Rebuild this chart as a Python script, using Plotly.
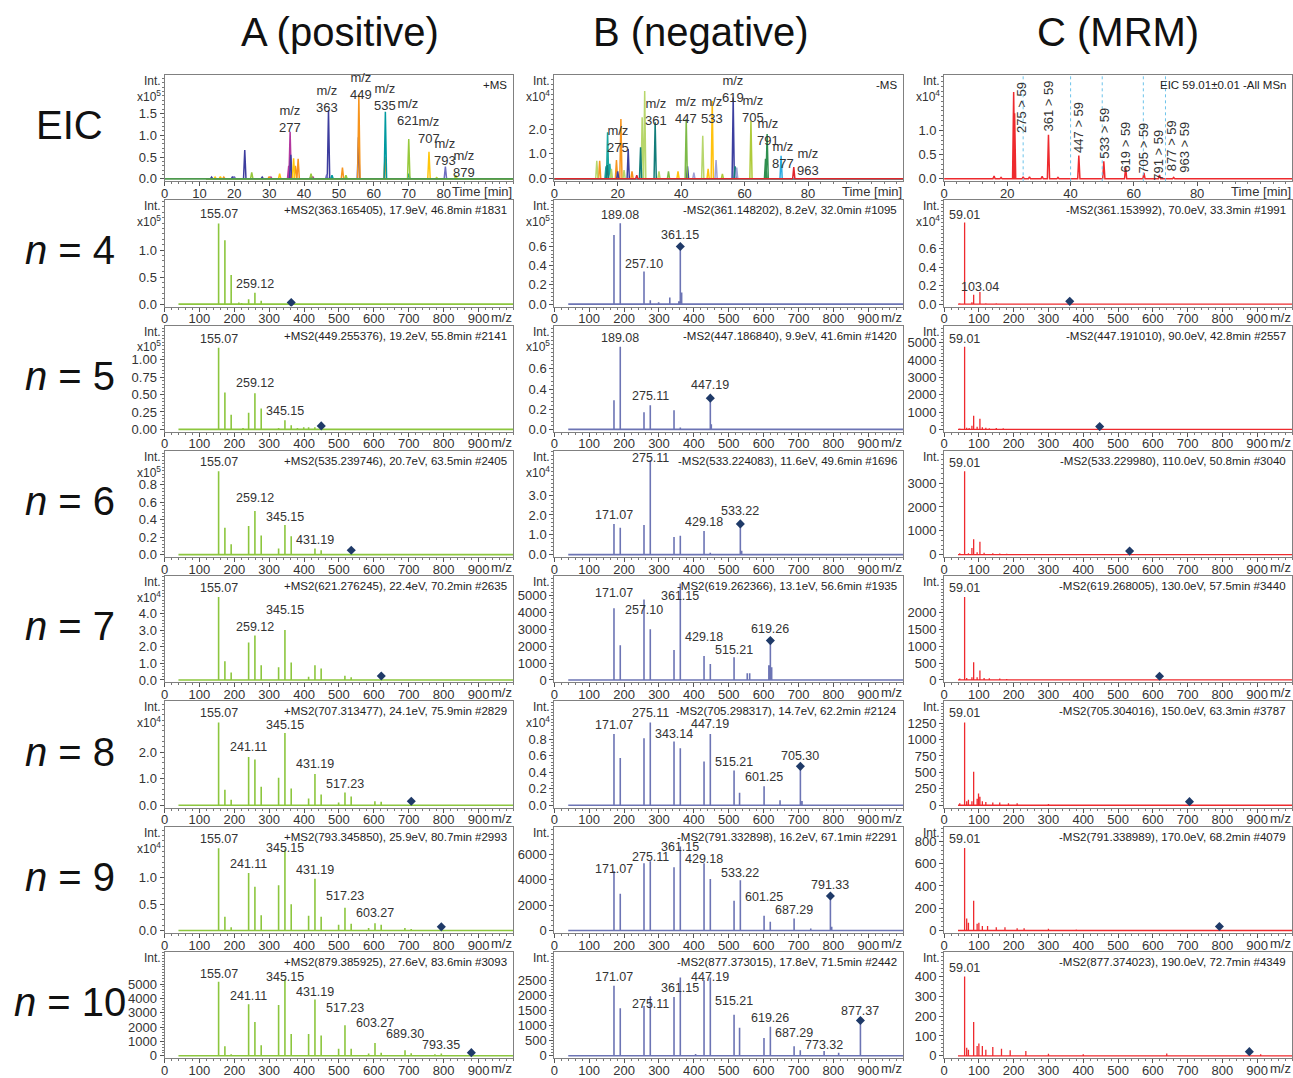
import plotly.graph_objects as go

W, H = 1293, 1078
FONT = "Liberation Sans, Arial, Helvetica, sans-serif"
TXT = "#333333"

# ======================= DATA =======================
col_titles = ["A (positive)", "B (negative)", "C (MRM)"]
row_titles = ["EIC", "<i>n</i> = 4", "<i>n</i> = 5", "<i>n</i> = 6", "<i>n</i> = 7",
              "<i>n</i> = 8", "<i>n</i> = 9", "<i>n</i> = 10"]

eic_headers = ["+MS", "-MS", "EIC 59.01±0.01 -All MSn"]

# --- EIC A (positive), intensity x10^5
eicA_series = ["277", "363", "449", "535", "621", "707", "793", "879"]
eicA_pk_series = ["277", "277", "277", "277",
                  "363", "363", "363", "363", "363", "363", "363", "363",
                  "449", "449", "449", "449", "449", "449", "449",
                  "535", "535", "535",
                  "621", "621", "621", "621",
                  "707", "707", "707", "707", "707",
                  "793", "793", "793",
                  "879", "879"]
eicA_pk_time = [36.0, 35.6, 30.5, 42.5,
                23.0, 36.2, 47.0, 55.6, 13.5, 19.5, 28.0, 42.0,
                37.5, 38.3, 51.0, 55.7, 63.2, 30.0, 17.0,
                63.3, 48.0, 70.0,
                25.0, 42.0, 70.0, 52.0,
                33.0, 37.0, 75.8, 14.5, 16.0,
                80.5, 46.5, 20.0,
                83.5, 78.0]
eicA_pk_int = [1.08, 0.30, 0.04, 0.05,
               0.66, 0.55, 1.57, 0.95, 0.04, 0.05, 0.04, 0.06,
               0.30, 0.46, 0.26, 1.93, 0.50, 0.05, 0.04,
               1.54, 0.08, 0.12,
               0.15, 0.12, 0.91, 0.08,
               0.12, 0.47, 0.62, 0.04, 0.05,
               0.28, 0.10, 0.05,
               0.08, 0.03]
eicA_lab = ["277", "363", "449", "535", "621", "707", "793", "879"]

# --- EIC B (negative), intensity x10^4
eicB_series = ["s275", "orange", "lgreen", "indigo", "dteal", "green", "ygreen",
               "yellow", "lavender", "dgreen", "lblue", "red"]
eicB_pk_series = ["s275", "s275", "s275",
                  "orange", "orange", "orange", "orange",
                  "lgreen", "lgreen", "lgreen", "lgreen", "lgreen", "lgreen", "lgreen",
                  "indigo", "indigo", "indigo", "indigo",
                  "dteal", "dteal", "dteal", "dteal",
                  "green", "green",
                  "ygreen", "ygreen",
                  "yellow", "yellow", "yellow",
                  "lavender", "lavender", "lavender",
                  "dgreen", "dgreen",
                  "lblue",
                  "red", "red"]
eicB_pk_time = [16.8, 16.3, 17.5,
                21.0, 19.6, 14.3, 24.5,
                13.4, 27.7, 28.5, 46.8, 18.0, 22.0, 33.0,
                23.3, 56.4, 42.0, 20.0,
                31.8, 27.2, 16.7, 57.0,
                41.6, 36.0,
                62.0, 53.0,
                49.8, 48.5, 39.0,
                51.0, 57.5, 44.0,
                67.1, 66.6,
                71.5,
                75.5, 26.0]
eicB_pk_int = [1.87, 0.50, 0.60,
               2.40, 0.75, 0.72, 0.30,
               0.72, 2.47, 3.53, 1.73, 0.40, 0.35, 0.30,
               1.20, 3.27, 0.50, 0.30,
               2.27, 1.27, 0.55, 0.50,
               2.40, 0.30,
               2.33, 0.20,
               3.13, 0.40, 0.30,
               0.75, 0.45, 0.25,
               1.80, 0.80,
               0.93,
               0.47, 0.15]
eicB_lab = ["275", "361", "447", "533", "619", "705", "791", "877", "963"]

# --- EIC C (MRM), intensity x10^4
eicC_time = [15.8, 18.0, 22.0, 22.3, 25.0, 27.0, 31.0, 33.0, 36.0, 42.6, 50.5,
             57.4, 63.2, 68.1, 72.6]
eicC_int = [0.06, 0.03, 1.79, 1.35, 0.04, 0.04, 0.05, 0.91, 0.03, 0.48, 0.36,
            0.23, 0.12, 0.08, 0.03]
mrm_windows = [25, 40, 50, 63, 70]
mrm_labels = ["275 > 59", "361 > 59", "447 > 59", "533 > 59", "619 > 59",
              "705 > 59", "791 > 59", "877 > 59", "963 > 59"]

# --- MS2 spectra, column A (positive)
A_headers = ["+MS2(363.165405), 17.9eV, 46.8min #1831",
             "+MS2(449.255376), 19.2eV, 55.8min #2141",
             "+MS2(535.239746), 20.7eV, 63.5min #2405",
             "+MS2(621.276245), 22.4eV, 70.2min #2635",
             "+MS2(707.313477), 24.1eV, 75.9min #2829",
             "+MS2(793.345850), 25.9eV, 80.7min #2993",
             "+MS2(879.385925), 27.6eV, 83.6min #3093"]
A_prec_mz = [363.17, 449.26, 535.24, 621.28, 707.31, 793.35, 879.39]
A_prec_int = [0.03, 0.05, 0.05, 0.24, 0.15, 0.07, 220]

A4_mz = [155.07, 173.08, 191.09, 213, 221, 241.11, 259.12, 277.13, 345.15, 363.17]
A4_int = [1.49, 1.18, 0.54, 0.03, 0.02, 0.09, 0.21, 0.06, 0.01, 0.03]
A4_lab = ["155.07", "259.12"]
A4_laby = [1.66, 0.37]

A5_mz = [140, 155.07, 173.08, 191.09, 213, 225, 241.11, 259.12, 277.13, 327, 345.15,
         363.16, 381, 399, 413, 431, 449.26]
A5_int = [0.01, 1.17, 0.53, 0.21, 0.01, 0.02, 0.24, 0.52, 0.30, 0.02, 0.13,
          0.06, 0.02, 0.03, 0.03, 0.03, 0.05]
A5_lab = ["155.07", "259.12", "345.15"]
A5_laby = [1.30, 0.66, 0.26]

A6_mz = [155.07, 173.08, 191.09, 241.11, 259.12, 277.13, 327, 345.15, 363.16, 413,
         431.19, 449, 535.24]
A6_int = [0.955, 0.31, 0.12, 0.33, 0.50, 0.22, 0.07, 0.34, 0.21, 0.01,
          0.07, 0.05, 0.05]
A6_lab = ["155.07", "259.12", "345.15", "431.19"]
A6_laby = [1.06, 0.65, 0.43, 0.17]

A7_mz = [155.07, 173.08, 191.09, 241.11, 259.12, 277.13, 327, 345.15, 363.16, 413,
         431.19, 449, 517, 535, 621.28]
A7_int = [5.0, 1.13, 0.45, 2.25, 2.68, 0.89, 0.77, 3.0, 1.05, 0.2,
          0.89, 0.69, 0.25, 0.17, 0.24]
A7_lab = ["155.07", "259.12", "345.15"]
A7_laby = [5.56, 3.16, 4.19]

A8_mz = [155.07, 173.08, 191.09, 241.11, 259.12, 277.13, 327, 345.15, 363.16, 413,
         431.19, 449, 499, 517.23, 535, 603, 621, 707.31]
A8_int = [3.12, 0.58, 0.21, 1.82, 1.72, 0.70, 1.04, 2.72, 0.63, 0.25,
          1.18, 0.40, 0.10, 0.48, 0.33, 0.15, 0.13, 0.15]
A8_lab = ["155.07", "241.11", "345.15", "431.19", "517.23"]
A8_laby = [3.46, 2.19, 3.04, 1.57, 0.81]

A9_mz = [155.07, 173.08, 191.09, 241.11, 259.12, 277.13, 327, 345.15, 363.16, 413,
         431.19, 449, 499, 517.23, 535, 585, 603.27, 621, 689, 707, 793.35]
A9_int = [1.56, 0.26, 0.06, 1.09, 0.83, 0.29, 0.86, 1.54, 0.50, 0.28,
          0.98, 0.26, 0.11, 0.43, 0.13, 0.05, 0.14, 0.11, 0.05, 0.03, 0.07]
A9_lab = ["155.07", "241.11", "345.15", "431.19", "517.23", "603.27"]
A9_laby = [1.74, 1.26, 1.56, 1.14, 0.66, 0.34]

A10_mz = [155.07, 173.08, 191.09, 241.11, 259.12, 277.13, 327, 345.15, 363.16, 413,
          431.19, 449, 499, 517.23, 535, 585, 603.27, 621, 689.30, 707, 775,
          793.35, 879.39]
A10_int = [5160, 670, 110, 3590, 2350, 740, 3540, 5380, 1520, 1520,
           3920, 1410, 490, 2130, 490, 160, 900, 220, 380, 180, 100,
           160, 220]
A10_lab = ["155.07", "241.11", "345.15", "431.19", "517.23", "603.27", "689.30", "793.35"]
A10_laby = [5720, 4190, 5490, 4480, 3300, 2310, 1500, 780]

# --- MS2 spectra, column B (negative)
B_headers = ["-MS2(361.148202), 8.2eV, 32.0min #1095",
             "-MS2(447.186840), 9.9eV, 41.6min #1420",
             "-MS2(533.224083), 11.6eV, 49.6min #1696",
             "-MS2(619.262366), 13.1eV, 56.6min #1935",
             "-MS2(705.298317), 14.7eV, 62.2min #2124",
             "-MS2(791.332898), 16.2eV, 67.1min #2291",
             "-MS2(877.373015), 17.8eV, 71.5min #2442"]
B_prec_mz = [361.15, 447.19, 533.22, 619.26, 705.30, 791.33, 877.37]
B_prec_int = [0.60, 0.31, 1.55, 2330, 0.47, 2720, 1170]

B4_mz = [171.07, 189.08, 257.10, 275.11, 299, 331, 357, 361.15, 365]
B4_int = [0.72, 0.84, 0.34, 0.04, 0.02, 0.07, 0.03, 0.60, 0.12]
B4_lab = ["189.08", "257.10", "361.15"]
B4_laby = [0.93, 0.42, 0.72]

B5_mz = [171.07, 189.08, 257.10, 275.11, 343.14, 361.15, 387, 447.19, 450]
B5_int = [0.29, 0.82, 0.17, 0.24, 0.19, 0.02, 0.01, 0.31, 0.05]
B5_lab = ["189.08", "275.11", "447.19"]
B5_laby = [0.91, 0.33, 0.44]

B6_mz = [171.07, 189.08, 257.10, 275.11, 343.14, 361.15, 429.18, 447, 470, 490, 510,
         533.22, 537]
B6_int = [1.55, 1.35, 1.49, 4.77, 0.89, 0.95, 1.19, 0.10, 0.05, 0.05, 0.05,
          1.55, 0.20]
B6_lab = ["171.07", "275.11", "429.18", "533.22"]
B6_laby = [2.01, 4.85, 1.65, 2.19]

B7_mz = [171.07, 189.08, 257.10, 275.11, 343.14, 361.15, 429.18, 447.19, 515.21, 553,
         560, 615, 619.26, 623]
B7_int = [4250, 2050, 4760, 3000, 1770, 5710, 1420, 940, 1340, 400,
          400, 870, 2330, 750]
B7_lab = ["171.07", "257.10", "361.15", "429.18", "515.21", "619.26"]
B7_laby = [5170, 4170, 5000, 2570, 1770, 3000]

B8_mz = [171.07, 189.08, 257.10, 275.11, 343.14, 361.15, 429.18, 447.19, 515.21, 531,
         601.25, 647, 705.30, 710]
B8_int = [0.86, 0.57, 0.81, 1.00, 0.77, 0.69, 0.53, 0.86, 0.42, 0.15,
          0.23, 0.06, 0.47, 0.05]
B8_lab = ["171.07", "275.11", "343.14", "447.19", "515.21", "601.25", "705.30"]
B8_laby = [0.97, 1.11, 0.86, 0.98, 0.52, 0.34, 0.59]

B9_mz = [171.07, 189.08, 257.10, 275.11, 343.14, 361.15, 429.18, 447.19, 515.21,
         533.22, 601.25, 619, 687.29, 735, 791.33, 795]
B9_int = [4690, 2910, 5310, 5470, 5000, 6630, 5310, 4060, 2340,
          3970, 1160, 690, 940, 150, 2720, 300]
B9_lab = ["171.07", "275.11", "361.15", "429.18", "533.22", "601.25", "687.29", "791.33"]
B9_laby = [4840, 5780, 6560, 5625, 4530, 2660, 1630, 3590]

B10_mz = [171.07, 189.08, 257.10, 275.11, 343.14, 361.15, 405, 429.18, 447.19, 515.21,
          531, 601, 619.26, 687.29, 705, 773.32, 815, 877.37]
B10_int = [2320, 1570, 1650, 1970, 1950, 2590, 60, 2500, 2590, 1360,
           930, 590, 960, 320, 180, 160, 100, 1170]
B10_lab = ["171.07", "275.11", "361.15", "447.19", "515.21", "619.26", "687.29",
           "773.32", "877.37"]
B10_laby = [2610, 1730, 2230, 2610, 1810, 1240, 740, 370, 1490]

# --- MS2 spectra, column C (MRM)
C_headers = ["-MS2(361.153992), 70.0eV, 33.3min #1991",
             "-MS2(447.191010), 90.0eV, 42.8min #2557",
             "-MS2(533.229980), 110.0eV, 50.8min #3040",
             "-MS2(619.268005), 130.0eV, 57.5min #3440",
             "-MS2(705.304016), 150.0eV, 63.3min #3787",
             "-MS2(791.338989), 170.0eV, 68.2min #4079",
             "-MS2(877.374023), 190.0eV, 72.7min #4349"]
C_prec_mz = [361.15, 447.19, 533.23, 619.27, 705.30, 791.34, 877.37]
C_prec_int = [0.03, 160, 150, 110, 55, 36, 21]

C4_mz = [45, 59.01, 80, 85, 103.04, 120, 150]
C4_int = [0.01, 0.88, 0.02, 0.10, 0.13, 0.01, 0.01]
C5_mz = [45, 59.01, 65, 72, 80, 85, 95, 103, 110, 120, 130, 150, 170, 190, 220, 250]
C5_int = [50, 4770, 100, 80, 210, 780, 150, 620, 120, 90, 70, 80, 60, 40, 30, 20]
C6_mz = [45, 59.01, 70, 80, 85, 95, 103, 115, 140, 160, 180, 220, 290]
C6_int = [60, 3500, 60, 280, 650, 100, 540, 80, 60, 50, 40, 30, 20]
C7_mz = [45, 59.01, 65, 80, 85, 95, 103, 115, 130, 160, 180, 290]
C7_int = [40, 2470, 60, 80, 530, 80, 280, 60, 50, 40, 30, 20]
C8_mz = [45, 59.01, 65, 70, 80, 85, 95, 99, 103, 110, 120, 140, 160, 185, 210, 300, 460]
C8_int = [30, 1260, 60, 85, 60, 510, 100, 180, 130, 60, 50, 40, 40, 30, 30, 20, 10]
C9_mz = [59.01, 65, 70, 85, 95, 100, 110, 125, 150, 175, 210, 230, 300, 380, 520, 640]
C9_int = [740, 107, 70, 267, 60, 70, 40, 40, 30, 30, 20, 20, 15, 10, 8, 8]
C10_mz = [59.01, 65, 70, 85, 95, 100, 110, 120, 140, 165, 190, 235, 300, 400, 640, 910]
C10_int = [400, 40, 30, 170, 49, 62, 49, 30, 44, 36, 28, 24, 10, 8, 12, 8]
C4_lab, C4_laby = ["59.01", "103.04"], [0.96, 0.19]
C5_lab, C5_laby = ["59.01"], [5230]
C6_lab, C6_laby = ["59.01"], [3850]
C7_lab, C7_laby = ["59.01"], [2750]
C8_lab, C8_laby = ["59.01"], [1400]
C9_lab, C9_laby = ["59.01"], [826]
C10_lab, C10_laby = ["59.01"], [440]

# y tick labels per panel (row 0 = EIC)
A_yt = [["0.0", "0.5", "1.0", "1.5"], ["0.0", "0.5", "1.0"],
        ["0.00", "0.25", "0.50", "0.75", "1.00"], ["0.0", "0.2", "0.4", "0.6", "0.8"],
        ["0.0", "1.0", "2.0", "3.0", "4.0"], ["0.0", "1.0", "2.0"], ["0.0", "0.5", "1.0"],
        ["0", "1000", "2000", "3000", "4000", "5000"]]
B_yt = [["0.0", "1.0", "2.0"], ["0.0", "0.2", "0.4", "0.6"], ["0.0", "0.2", "0.4", "0.6"],
        ["0.0", "1.0", "2.0", "3.0"], ["0", "1000", "2000", "3000", "4000", "5000"],
        ["0.0", "0.2", "0.4", "0.6", "0.8"], ["0", "2000", "4000", "6000"],
        ["0", "500", "1000", "1500", "2000", "2500"]]
C_yt = [["0.0", "0.5", "1.0"], ["0.0", "0.2", "0.4", "0.6"],
        ["0", "1000", "2000", "3000", "4000", "5000"], ["0", "1000", "2000", "3000"],
        ["0", "500", "1000", "1500", "2000"], ["0", "250", "500", "750", "1000", "1250"],
        ["0", "200", "400", "600", "800"], ["0", "100", "200", "300", "400"]]
A_exp = [5, 5, 5, 5, 4, 4, 4, None]
B_exp = [4, 5, 5, 4, None, 4, None, None]
C_exp = [4, 4, None, None, None, None, None, None]

mz_ticks = [0, 100, 200, 300, 400, 500, 600, 700, 800, 900]
timeA_ticks = [0, 10, 20, 30, 40, 50, 60, 70, 80]
timeBC_ticks = [0, 20, 40, 60, 80]

# ======================= LAYOUT / STYLE =======================
A_ymax = [2.38, 1.92, 1.49, 1.19, 6.25, 3.91, 1.97, 7240]
B_ymax = [4.17, 1.08, 1.03, 5.23, 6150, 1.255, 8190, 3436]
C_ymax = [2.14, 1.12, 5990, 4355, 3090, 1580, 932, 523]

COL_PX = [(161, 511), (552, 902), (943, 1292)]
ZERO_PY = [180 + 126.1 * r for r in range(8)]
GREEN, BLUE, RED = "#8CC63E", "#6C74B4", "#EE2A2E"
DIAM = "#1F3A68"
eicA_colors = {"277": "#B2379F", "363": "#3D3D9E", "449": "#F7941D", "535": "#009AA0",
               "621": "#97C93C", "707": "#FFC60B", "793": "#6D6EC2", "879": "#BFD730"}
eicB_colors = {"s275": "#1AA6A0", "orange": "#F7941D", "lgreen": "#B7D66B",
               "indigo": "#3C3FA0", "dteal": "#137D7A", "green": "#7DBA48",
               "ygreen": "#AFCB3A", "yellow": "#FFC20E", "lavender": "#9EA2D6",
               "dgreen": "#2F8F4F", "lblue": "#29ABE2", "red": "#E0262B"}


def px(x):
    return x / W


def py(y):
    return 1 - y / H


fig = go.Figure()
annotations = []
shapes = []
layout = {}


def axis_names(r, c):
    i = r * 3 + c + 1
    s = "" if i == 1 else str(i)
    return "x" + s, "y" + s, "xaxis" + s, "yaxis" + s


def stick_xy(mz, inten, lo, hi):
    xs, ys = [lo], [0]
    for m, v in sorted(zip(mz, inten)):
        xs += [m, m, m]
        ys += [0, v, 0]
    xs.append(hi)
    ys.append(0)
    return xs, ys


def eic_xy(times, ints, lo, hi, hw=0.35):
    xs, ys = [lo], [0]
    for t, v in sorted(zip(times, ints)):
        xs += [t - hw, t, t + hw]
        ys += [0, v, 0]
    xs.append(hi)
    ys.append(0)
    return xs, ys


def setup_axes(r, c, xmax, xticks, xminor, yt, ymax, header, exp):
    xn, yn, xa, ya = axis_names(r, c)
    x0, x1 = COL_PX[c]
    zero = ZERO_PY[r]
    bot, top = zero + 2.5, zero - 104.5
    yvals = [float(t) for t in yt]
    step = yvals[1] - yvals[0]
    common = dict(showline=True, linecolor="#808080", linewidth=1, mirror=True,
                  showgrid=False, zeroline=False, ticks="outside", ticklen=4,
                  tickcolor="#555555", tickfont=dict(family=FONT, size=13, color=TXT))
    layout[xa] = dict(domain=[px(x0), px(x1)], range=[0, xmax], anchor=yn,
                      tickmode="array", tickvals=xticks, ticktext=[str(t) for t in xticks],
                      ticklabelstandoff=-4,
                      minor=dict(dtick=xminor, tick0=0, ticklen=2, tickcolor="#777777",
                                 ticks="outside"),
                      **common)
    layout[ya] = dict(domain=[py(bot), py(top)], range=[-2.5 / 104.5 * ymax, ymax],
                      anchor=xn, tickmode="array", tickvals=yvals, ticktext=yt,
                      minor=dict(dtick=step / 5, tick0=0, ticklen=2, tickcolor="#777777",
                                 ticks="outside"),
                      **common)
    annotations.append(dict(x=px(x1 - 4), y=py(top + 2), xref="paper", yref="paper",
                            text=header, showarrow=False, xanchor="right", yanchor="top",
                            font=dict(family=FONT, size=11.5, color="#222222")))
    annotations.append(dict(x=px(x0 - 2), y=py(top + 6), xref="paper", yref="paper",
                            text="Int.", showarrow=False, xanchor="right", yanchor="middle",
                            font=dict(family=FONT, size=12, color=TXT)))
    if exp is not None:
        annotations.append(dict(x=px(x0 - 2), y=py(top + 21), xref="paper", yref="paper",
                                text="x10<sup>%d</sup>" % exp, showarrow=False,
                                xanchor="right", yanchor="middle",
                                font=dict(family=FONT, size=12, color=TXT)))
    endlab = "Time [min]" if r == 0 else "m/z"
    annotations.append(dict(x=px(x1 + 1), y=py(bot + 10.5), xref="paper", yref="paper",
                            text=endlab, showarrow=False, xanchor="right", yanchor="middle",
                            font=dict(family=FONT, size=13, color=TXT)))
    return xn, yn


# ---------------- EIC row ----------------
xn, yn = setup_axes(0, 0, 100, timeA_ticks, 2, A_yt[0], A_ymax[0], eic_headers[0], A_exp[0])
for s in eicA_series:
    t = [tt for tt, ss in zip(eicA_pk_time, eicA_pk_series) if ss == s]
    v = [vv for vv, ss in zip(eicA_pk_int, eicA_pk_series) if ss == s]
    xs, ys = eic_xy(t, v, 12, 100)
    fig.add_trace(go.Scatter(x=xs, y=ys, xaxis=xn, yaxis=yn, mode="lines",
                             line=dict(color=eicA_colors[s], width=1.5), showlegend=False,
                             hoverinfo="skip"))
fig.add_trace(go.Scatter(x=[0, 100], y=[0, 0], xaxis=xn, yaxis=yn, mode="lines",
                         line=dict(color="#4E9A4E", width=1.8), showlegend=False))
eicA_lab_pos = [(36.0, 1.37), (46.7, 1.83), (56.2, 2.12), (63.1, 1.87), (69.7, 1.54),
                (75.9, 1.12), (80.4, 0.61), (85.9, 0.35)]
for lab, (lx, ly) in zip(eicA_lab, eicA_lab_pos):
    annotations.append(dict(x=lx, y=ly, xref=xn, yref=yn, text="m/z<br>" + lab,
                            showarrow=False, xanchor="center", yanchor="middle",
                            font=dict(family=FONT, size=13, color=TXT)))

xn, yn = setup_axes(0, 1, 110, timeBC_ticks, 4, B_yt[0], B_ymax[0], eic_headers[1], B_exp[0])
for s in eicB_series:
    t = [tt for tt, ss in zip(eicB_pk_time, eicB_pk_series) if ss == s]
    v = [vv for vv, ss in zip(eicB_pk_int, eicB_pk_series) if ss == s]
    xs, ys = eic_xy(t, v, 0, 110)
    fig.add_trace(go.Scatter(x=xs, y=ys, xaxis=xn, yaxis=yn, mode="lines",
                             line=dict(color=eicB_colors[s], width=1.5), showlegend=False,
                             hoverinfo="skip"))
eicB_lab_pos = [(20.1, 1.6), (32.2, 2.7), (41.6, 2.77), (49.8, 2.77), (56.3, 3.6),
                (62.6, 2.79), (67.3, 1.87), (72.0, 0.97), (79.9, 0.66)]
for lab, (lx, ly) in zip(eicB_lab, eicB_lab_pos):
    annotations.append(dict(x=lx, y=ly, xref=xn, yref=yn, text="m/z<br>" + lab,
                            showarrow=False, xanchor="center", yanchor="middle",
                            font=dict(family=FONT, size=13, color=TXT)))

xn, yn = setup_axes(0, 2, 110, timeBC_ticks, 4, C_yt[0], C_ymax[0], eic_headers[2], C_exp[0])
for tw in mrm_windows:
    shapes.append(dict(type="line", xref=xn, yref=yn + " domain", x0=tw, x1=tw, y0=0, y1=1,
                       line=dict(color="#6CC3EA", width=1, dash="3px,3px")))
xs, ys = eic_xy(eicC_time, eicC_int, 0, 110)
fig.add_trace(go.Scatter(x=xs, y=ys, xaxis=xn, yaxis=yn, mode="lines",
                         line=dict(color=RED, width=1.5), showlegend=False, hoverinfo="skip"))
mrm_lab_pos = [(24.3, 1.48), (33.0, 1.50), (42.5, 1.06), (50.7, 0.94), (57.3, 0.65),
               (63.0, 0.63), (67.7, 0.48), (72.0, 0.69), (76.0, 0.65)]
for lab, (lx, ly) in zip(mrm_labels, mrm_lab_pos):
    annotations.append(dict(x=lx, y=ly, xref=xn, yref=yn, text=lab, textangle=-90,
                            showarrow=False, xanchor="center", yanchor="middle",
                            font=dict(family=FONT, size=13, color=TXT)))

# ---------------- spectra rows ----------------
A_spec = [(A4_mz, A4_int, A4_lab, A4_laby), (A5_mz, A5_int, A5_lab, A5_laby),
          (A6_mz, A6_int, A6_lab, A6_laby), (A7_mz, A7_int, A7_lab, A7_laby),
          (A8_mz, A8_int, A8_lab, A8_laby), (A9_mz, A9_int, A9_lab, A9_laby),
          (A10_mz, A10_int, A10_lab, A10_laby)]
B_spec = [(B4_mz, B4_int, B4_lab, B4_laby), (B5_mz, B5_int, B5_lab, B5_laby),
          (B6_mz, B6_int, B6_lab, B6_laby), (B7_mz, B7_int, B7_lab, B7_laby),
          (B8_mz, B8_int, B8_lab, B8_laby), (B9_mz, B9_int, B9_lab, B9_laby),
          (B10_mz, B10_int, B10_lab, B10_laby)]
C_spec = [(C4_mz, C4_int, C4_lab, C4_laby), (C5_mz, C5_int, C5_lab, C5_laby),
          (C6_mz, C6_int, C6_lab, C6_laby), (C7_mz, C7_int, C7_lab, C7_laby),
          (C8_mz, C8_int, C8_lab, C8_laby), (C9_mz, C9_int, C9_lab, C9_laby),
          (C10_mz, C10_int, C10_lab, C10_laby)]

columns = [(A_spec, A_headers, A_yt, A_ymax, A_exp, A_prec_mz, A_prec_int, GREEN, 1.6),
           (B_spec, B_headers, B_yt, B_ymax, B_exp, B_prec_mz, B_prec_int, BLUE, 1.6),
           (C_spec, C_headers, C_yt, C_ymax, C_exp, C_prec_mz, C_prec_int, RED, 1.3)]

for c, (spec, heads, yts, ymaxs, exps, pmz, pint, color, lw) in enumerate(columns):
    for k in range(7):
        r = k + 1
        mz, inten, labs, labys = spec[k]
        xn, yn = setup_axes(r, c, 1000, mz_ticks, 20, yts[r], ymaxs[r], heads[k], exps[r])
        xs, ys = stick_xy(mz, inten, 40, 1000)
        fig.add_trace(go.Scatter(x=xs, y=ys, xaxis=xn, yaxis=yn, mode="lines",
                                 line=dict(color=color, width=lw), showlegend=False,
                                 hoverinfo="skip"))
        fig.add_trace(go.Scatter(x=[pmz[k]], y=[pint[k]], xaxis=xn, yaxis=yn,
                                 mode="markers", showlegend=False,
                                 marker=dict(symbol="diamond", size=7, color=DIAM)))
        for lab, ly in zip(labs, labys):
            annotations.append(dict(x=float(lab), y=ly, xref=xn, yref=yn, text=lab,
                                    showarrow=False, xanchor="center", yanchor="middle",
                                    font=dict(family=FONT, size=12.5, color=TXT)))

# ---------------- titles ----------------
for t, cx in zip(col_titles, [337, 699, 1117]):
    annotations.append(dict(x=px(cx), y=py(32), xref="paper", yref="paper", text=t,
                            showarrow=False, xanchor="center", yanchor="middle",
                            font=dict(family=FONT, size=40, color="#111111")))
for r, t in enumerate(row_titles):
    annotations.append(dict(x=px(66), y=py(ZERO_PY[r] - 54), xref="paper", yref="paper",
                            text=t, showarrow=False, xanchor="center", yanchor="middle",
                            font=dict(family=FONT, size=40, color="#111111")))

fig.update_layout(width=W, height=H, margin=dict(l=0, r=0, t=0, b=0),
                  paper_bgcolor="white", plot_bgcolor="white", showlegend=False,
                  annotations=annotations, shapes=shapes, **layout)

fig.write_html("out.html", config={"displayModeBar": False},
               post_script="document.body.style.margin='0px';"
                           "document.body.style.padding='0px';"
                           "document.body.style.overflow='hidden';")
